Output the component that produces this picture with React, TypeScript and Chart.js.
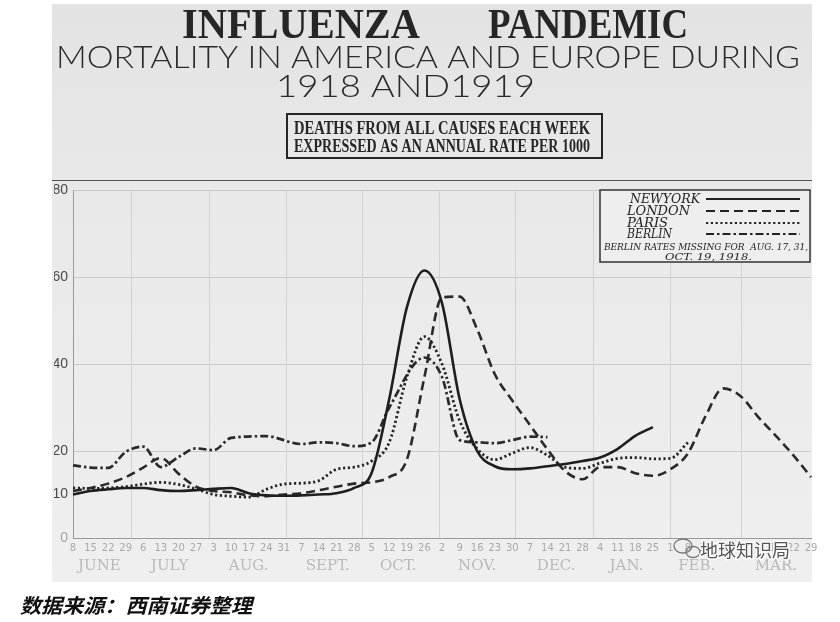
import React, { useEffect, useRef } from "react";
import { Chart, registerables } from "chart.js";

Chart.register(...registerables);

// ---- data ----
const WEEK_LABELS = [
  "8", "15", "22", "29",
  "6", "13", "20", "27",
  "3", "10", "17", "24", "31",
  "7", "14", "21", "28",
  "5", "12", "19", "26",
  "2", "9", "16", "23", "30",
  "7", "14", "21", "28",
  "4", "11", "18", "25",
  "1", "8", "15", "22",
  "1", "8", "15", "22", "29",
];
const MONTHS = ["JUNE", "JULY", "AUG.", "SEPT.", "OCT.", "NOV.", "DEC.", "JAN.", "FEB.", "MAR."];
const WEEKS_PER_MONTH = [4, 4, 5, 4, 4, 5, 4, 4, 4, 5];
const FIRST_WEEK = [1918, 5, 8];
const MONTH_START_DATES = [
  [1918, 6, 1], [1918, 7, 1], [1918, 8, 1], [1918, 9, 1], [1918, 10, 1],
  [1918, 11, 1], [1919, 0, 1], [1919, 1, 1], [1919, 2, 1],
];
const Y_TICKS = [0, 10, 20, 40, 60, 80];

const NEW_YORK = [
  10, 10.8, 11.2, 11.5, 11.5, 11, 10.8, 11, 11.3, 11.5,
  10.3, 9.8, 9.7, 9.8, 10, 10.3, 11.5, 15, 32, 53,
  61.5, 54, 32, 20, 16.5, 15.8, 16, 16.5, 17, 17.7,
  18.5, 20.5, 23.5, 25.5, null, null, null, null, null, null,
  null, null, null,
];
const LONDON = [
  10.8, 11.5, 12.5, 14, 16.2, 18.4, 14.8, 11.8, 10.8, 10.5,
  9.8, 9.6, 10, 10.3, 11, 11.8, 12.5, 12.8, 14, 18,
  37, 55.3, 55.5, 48, 37.7, 31.6, 26, 20.4, 15.4, 13.5,
  16.3, 16.3, 14.9, 14.3, 15.8, 19.5, 28, 34.4, 32.6, 27.8,
  23.5, 19, 14,
];
const PARIS = [
  11.5, 11.4, 11.5, 11.8, 12.4, 12.8, 12.3, 11.3, 10, 9.6,
  9.4, 11.2, 12.4, 12.6, 13.2, 15.8, 16.3, 17.7, 22, 37,
  46.3, 40, 27, 20.5, 18, 19.5, 20.8, 19, 16.3, 16,
  17.2, 18.3, 18.5, 18.2, 18.3, 22, null, null, null, null,
  null, null, null,
];
// null = Berlin rates missing (Aug 17, Aug 31, Oct 19)
const BERLIN = [
  16.7, 16.2, 16.1, 19.8, 21, 16.3, 18.6, 20.6, 20.2, 23,
  null, 23.4, null, 21.6, 22, 21.8, 21.1, 22, 30, null,
  41.5, 37, 22.5, 22, 21.8, 22.5, 23.3, 23.2, null, null,
  null, null, null, null, null, null, null, null, null, null,
  null, null, null,
];

const INK = "#2a2a2a";

function fitText(ctx: any, text: string, x0: number, x1: number, y: number, font: string, color: string) {
  ctx.save();
  ctx.font = font;
  ctx.fillStyle = color;
  ctx.textAlign = "left";
  ctx.textBaseline = "alphabetic";
  const w = ctx.measureText(text).width;
  ctx.translate(x0, y);
  ctx.scale((x1 - x0) / w, 1);
  ctx.fillText(text, 0, 0);
  ctx.restore();
}

const decorPlugin = {
  id: "decor",
  beforeDraw(chart: any) {
    const ctx = chart.ctx;
    ctx.save();
    ctx.fillStyle = "#ffffff";
    ctx.fillRect(0, 0, chart.width, chart.height);
    const g = ctx.createLinearGradient(0, 4, 0, 582);
    g.addColorStop(0, "#e3e3e3");
    g.addColorStop(0.35, "#e9e9e9");
    g.addColorStop(1, "#efefef");
    ctx.fillStyle = g;
    ctx.fillRect(52, 4, 760, 578);
    ctx.restore();
  },
  beforeDatasetsDraw(chart: any) {
    const ctx = chart.ctx;
    const xs = chart.scales.x;
    const a = chart.chartArea;
    const start = Date.UTC(FIRST_WEEK[0], FIRST_WEEK[1], FIRST_WEEK[2]);
    ctx.save();
    ctx.strokeStyle = "#d2d2d2";
    ctx.lineWidth = 1;
    MONTH_START_DATES.forEach((d) => {
      const w = (Date.UTC(d[0], d[1], d[2]) - start) / (7 * 864e5);
      const x = Math.round(xs.getPixelForValue(w)) + 0.5;
      ctx.beginPath();
      ctx.moveTo(x, a.top);
      ctx.lineTo(x, a.bottom);
      ctx.stroke();
    });
    ctx.restore();
  },
  afterDraw(chart: any) {
    const ctx = chart.ctx;
    const xs = chart.scales.x;
    ctx.save();
    // Title
    fitText(ctx, "INFLUENZA", 182, 420, 38, "bold 42px 'Liberation Serif'", "#262626");
    fitText(ctx, "PANDEMIC", 488, 688, 38, "bold 42px 'Liberation Serif'", "#262626");
    fitText(ctx, "MORTALITY IN AMERICA AND EUROPE DURING", 56, 800, 68, "300 32px Lato", "#2a2a2a");
    fitText(ctx, "1918 AND1919", 276, 535, 97, "300 32px Lato", "#2a2a2a");
    // boxed subtitle
    ctx.strokeStyle = "#262626";
    ctx.lineWidth = 2;
    ctx.strokeRect(287, 114, 315, 44);
    fitText(ctx, "DEATHS FROM ALL CAUSES EACH WEEK", 294, 590, 134, "bold 18px 'Liberation Serif'", "#262626");
    fitText(ctx, "EXPRESSED AS AN ANNUAL RATE PER 1000", 294, 590, 152, "bold 18px 'Liberation Serif'", "#262626");
    // separator
    ctx.strokeStyle = "#555";
    ctx.lineWidth = 1.2;
    ctx.beginPath();
    ctx.moveTo(52, 180.5);
    ctx.lineTo(812, 180.5);
    ctx.stroke();

    // legend box
    ctx.fillStyle = "#eeeeee";
    ctx.fillRect(600, 190, 210, 72);
    ctx.strokeStyle = "#333";
    ctx.lineWidth = 1.5;
    ctx.strokeRect(600, 190, 210, 72);
    const rowsX0 = [630, 627, 627, 627];
    const rowsX1 = [700, 690, 668, 672];
    const rowsY = [203, 215, 227, 238];
    chart.data.datasets.forEach((ds: any, i: number) => {
      fitText(ctx, ds.label, rowsX0[i], rowsX1[i], rowsY[i], "italic 12px 'DejaVu Serif'", "#222");
      ctx.save();
      ctx.strokeStyle = "#222";
      ctx.lineWidth = 2.2;
      ctx.setLineDash(ds.borderDash || []);
      ctx.beginPath();
      ctx.moveTo(706, rowsY[i] - 4);
      ctx.lineTo(800, rowsY[i] - 4);
      ctx.stroke();
      ctx.restore();
    });
    fitText(ctx, "BERLIN RATES MISSING FOR  AUG. 17, 31,", 604, 808, 250, "italic 10px 'DejaVu Serif'", "#222");
    fitText(ctx, "OCT. 19, 1918.", 665, 752, 260, "italic 10px 'DejaVu Serif'", "#222");

    // month labels
    ctx.font = "15px 'DejaVu Serif'";
    ctx.fillStyle = "#b9b9b9";
    ctx.textAlign = "center";
    ctx.textBaseline = "alphabetic";
    let idx = 0;
    MONTHS.forEach((m, i) => {
      const c = idx + (WEEKS_PER_MONTH[i] - 1) / 2;
      ctx.fillText(m, xs.getPixelForValue(c), 570);
      idx += WEEKS_PER_MONTH[i];
    });

    // watermark
    ctx.strokeStyle = "#777";
    ctx.lineWidth = 1.3;
    ctx.beginPath();
    ctx.ellipse(683, 546, 9, 7, 0, 0, Math.PI * 2);
    ctx.stroke();
    ctx.beginPath();
    ctx.ellipse(693, 552, 7, 5.5, 0, 0, Math.PI * 2);
    ctx.stroke();
    ctx.font = "18px 'Noto Sans CJK SC'";
    ctx.textAlign = "left";
    ctx.lineWidth = 3;
    ctx.strokeStyle = "rgba(255,255,255,0.85)";
    ctx.strokeText("地球知识局", 700, 557);
    ctx.fillStyle = "#555";
    ctx.fillText("地球知识局", 700, 557);

    // source note
    fitText(ctx, "数据来源：西南证券整理", 20, 252, 613, "italic bold 20px 'Noto Sans CJK SC'", "#111");
    ctx.restore();
  },
};

export default function App() {
  const ref = useRef<HTMLCanvasElement | null>(null);
  useEffect(() => {
    document.body.style.margin = "0";
    const canvas = ref.current;
    if (!canvas) return;
    const gapSeg = (dash: number[]) => ({
      borderDash: (c: any) => (c.p1DataIndex - c.p0DataIndex > 1 ? [] : dash),
      borderColor: (c: any) => (c.p1DataIndex - c.p0DataIndex > 1 ? "#6a6a6a" : INK),
    });
    const chart = new Chart(canvas, {
      type: "line",
      data: {
        labels: WEEK_LABELS,
        datasets: [
          { label: "NEWYORK", data: NEW_YORK, borderColor: "#1e1e1e", borderWidth: 2.6, borderDash: [] },
          { label: "LONDON", data: LONDON, borderColor: INK, borderWidth: 2.6, borderDash: [9, 5] },
          { label: "PARIS", data: PARIS, borderColor: "#252525", borderWidth: 2.8, borderDash: [2.2, 2.6] },
          {
            label: "BERLIN", data: BERLIN, borderColor: INK, borderWidth: 2.7,
            borderDash: [8, 3, 2.5, 3], spanGaps: true, segment: gapSeg([8, 3, 2.5, 3]),
          },
        ] as any,
      },
      options: {
        responsive: false,
        animation: false,
        devicePixelRatio: 1,
        layout: { padding: { left: 54, top: 190, right: 29, bottom: 44 } },
        elements: {
          point: { radius: 0, hoverRadius: 0 },
          line: { cubicInterpolationMode: "monotone", fill: false, borderCapStyle: "butt" },
        },
        plugins: {
          legend: { display: false },
          title: { display: false },
          tooltip: { enabled: false },
        },
        scales: {
          x: {
            type: "category",
            offset: false,
            grid: { display: false, drawTicks: false },
            border: { display: true, color: "#9a9a9a", width: 1 },
            ticks: {
              autoSkip: false,
              maxRotation: 0,
              minRotation: 0,
              padding: 4,
              color: "#a9a9a9",
              font: { size: 10, family: "'DejaVu Sans'" },
            },
            afterFit: (s: any) => { s.height = 40; },
          },
          y: {
            min: 0,
            max: 80,
            afterBuildTicks: (s: any) => { s.ticks = Y_TICKS.map((v) => ({ value: v })); },
            grid: {
              drawTicks: false,
              color: (c: any) => (c.tick && (c.tick.value === 10 || c.tick.value === 0) ? "rgba(0,0,0,0)" : "#c9c9c9"),
              lineWidth: 1,
            },
            border: { display: true, color: "#9a9a9a", width: 1 },
            ticks: {
              padding: 5,
              color: (c: any) => (c.tick && c.tick.value === 0 ? "#a5a5a5" : "#4a4a4a"),
              font: { size: 14, family: "'Liberation Sans'" },
            },
            afterFit: (s: any) => { s.width = 19; },
          },
        },
      } as any,
      plugins: [decorPlugin],
    });
    return () => chart.destroy();
  }, []);
  return <canvas ref={ref} width={840} height={622} style={{ display: "block" }} />;
}
